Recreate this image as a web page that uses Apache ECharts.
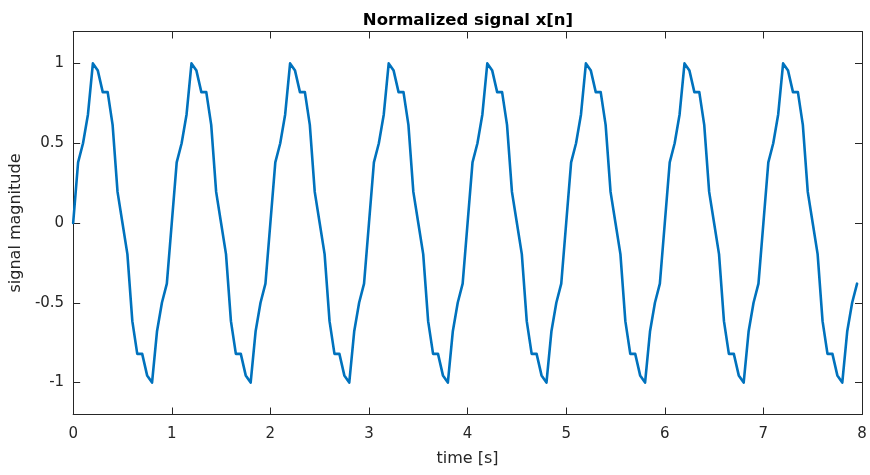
<!DOCTYPE html>
<html>
<head>
<meta charset="utf-8">
<script src="https://cdn.jsdelivr.net/npm/echarts@6/dist/echarts.min.js"></script>
<style>
  html, body { margin: 0; padding: 0; background: #ffffff; }
  #chart { width: 870px; height: 475px; }
</style>
</head>
<body>
<div id="chart"></div>
<script>
// Sampling step of x[n] in seconds
const sampleStep = 0.05;

// Normalized samples x[n], one row per second
const signalValues = [
  0, 0.38, 0.5, 0.68, 1.0, 0.955, 0.82, 0.82, 0.615, 0.195, 0, -0.195, -0.615, -0.82, -0.82, -0.955, -1.0, -0.68, -0.5, -0.38,
  0, 0.38, 0.5, 0.68, 1.0, 0.955, 0.82, 0.82, 0.615, 0.195, 0, -0.195, -0.615, -0.82, -0.82, -0.955, -1.0, -0.68, -0.5, -0.38,
  0, 0.38, 0.5, 0.68, 1.0, 0.955, 0.82, 0.82, 0.615, 0.195, 0, -0.195, -0.615, -0.82, -0.82, -0.955, -1.0, -0.68, -0.5, -0.38,
  0, 0.38, 0.5, 0.68, 1.0, 0.955, 0.82, 0.82, 0.615, 0.195, 0, -0.195, -0.615, -0.82, -0.82, -0.955, -1.0, -0.68, -0.5, -0.38,
  0, 0.38, 0.5, 0.68, 1.0, 0.955, 0.82, 0.82, 0.615, 0.195, 0, -0.195, -0.615, -0.82, -0.82, -0.955, -1.0, -0.68, -0.5, -0.38,
  0, 0.38, 0.5, 0.68, 1.0, 0.955, 0.82, 0.82, 0.615, 0.195, 0, -0.195, -0.615, -0.82, -0.82, -0.955, -1.0, -0.68, -0.5, -0.38,
  0, 0.38, 0.5, 0.68, 1.0, 0.955, 0.82, 0.82, 0.615, 0.195, 0, -0.195, -0.615, -0.82, -0.82, -0.955, -1.0, -0.68, -0.5, -0.38,
  0, 0.38, 0.5, 0.68, 1.0, 0.955, 0.82, 0.82, 0.615, 0.195, 0, -0.195, -0.615, -0.82, -0.82, -0.955, -1.0, -0.68, -0.5, -0.38
];

// Axis tick positions
const xTicks = [0, 1, 2, 3, 4, 5, 6, 7, 8];
const yTicks = [-1, -0.5, 0, 0.5, 1];

const points = signalValues.map((v, i) => [+(i * sampleStep).toFixed(2), v]);

const axisColor = '#262626';
const font = 'DejaVu Sans, Liberation Sans, sans-serif';

const chart = echarts.init(document.getElementById('chart'), null, { renderer: 'canvas' });

const xBase = {
  type: 'value', min: 0, max: 8, interval: 1,
  axisLine: { show: true, onZero: false, lineStyle: { color: axisColor, width: 1 } },
  axisTick: { show: true, inside: true, length: 7, lineStyle: { color: axisColor } },
  splitLine: { show: false }
};
const yBase = {
  type: 'value', min: -1.2, max: 1.2,
  axisLine: { show: true, onZero: false, lineStyle: { color: axisColor, width: 1 } },
  axisTick: { show: true, inside: true, length: 7, customValues: yTicks, lineStyle: { color: axisColor } },
  splitLine: { show: false }
};

chart.setOption({
  animation: false,
  backgroundColor: '#ffffff',
  title: {
    text: 'Normalized signal x[n]',
    left: 463, top: 7, textAlign: 'center',
    textStyle: { fontFamily: font, fontSize: 16.5, fontWeight: 'bold', color: '#000000' }
  },
  grid: { left: 72.5, right: 8, top: 31.5, bottom: 60.5, containLabel: false },
  xAxis: [
    Object.assign({}, xBase, {
      position: 'bottom',
      name: 'time [s]', nameLocation: 'middle', nameGap: 36,
      nameTextStyle: { fontFamily: font, fontSize: 16, color: axisColor },
      axisLabel: { show: true, margin: 12, fontFamily: font, fontSize: 15, color: axisColor,
        customValues: xTicks, formatter: v => String(v) }
    }),
    Object.assign({}, xBase, { position: 'top', axisLabel: { show: false } })
  ],
  yAxis: [
    Object.assign({}, yBase, {
      position: 'left',
      name: 'signal magnitude', nameLocation: 'middle', nameGap: 46, nameRotate: 90,
      nameTextStyle: { fontFamily: font, fontSize: 16, color: axisColor },
      axisLabel: { show: true, margin: 9, fontFamily: font, fontSize: 15, color: axisColor,
        customValues: yTicks, formatter: v => String(v) }
    }),
    Object.assign({}, yBase, { position: 'right', axisLabel: { show: false } })
  ],
  series: [{
    type: 'line',
    data: points,
    xAxisIndex: 0, yAxisIndex: 0,
    showSymbol: false,
    lineStyle: { color: '#0072BD', width: 2.6, join: 'round', cap: 'round' },
    clip: true
  }]
});
</script>
</body>
</html>
